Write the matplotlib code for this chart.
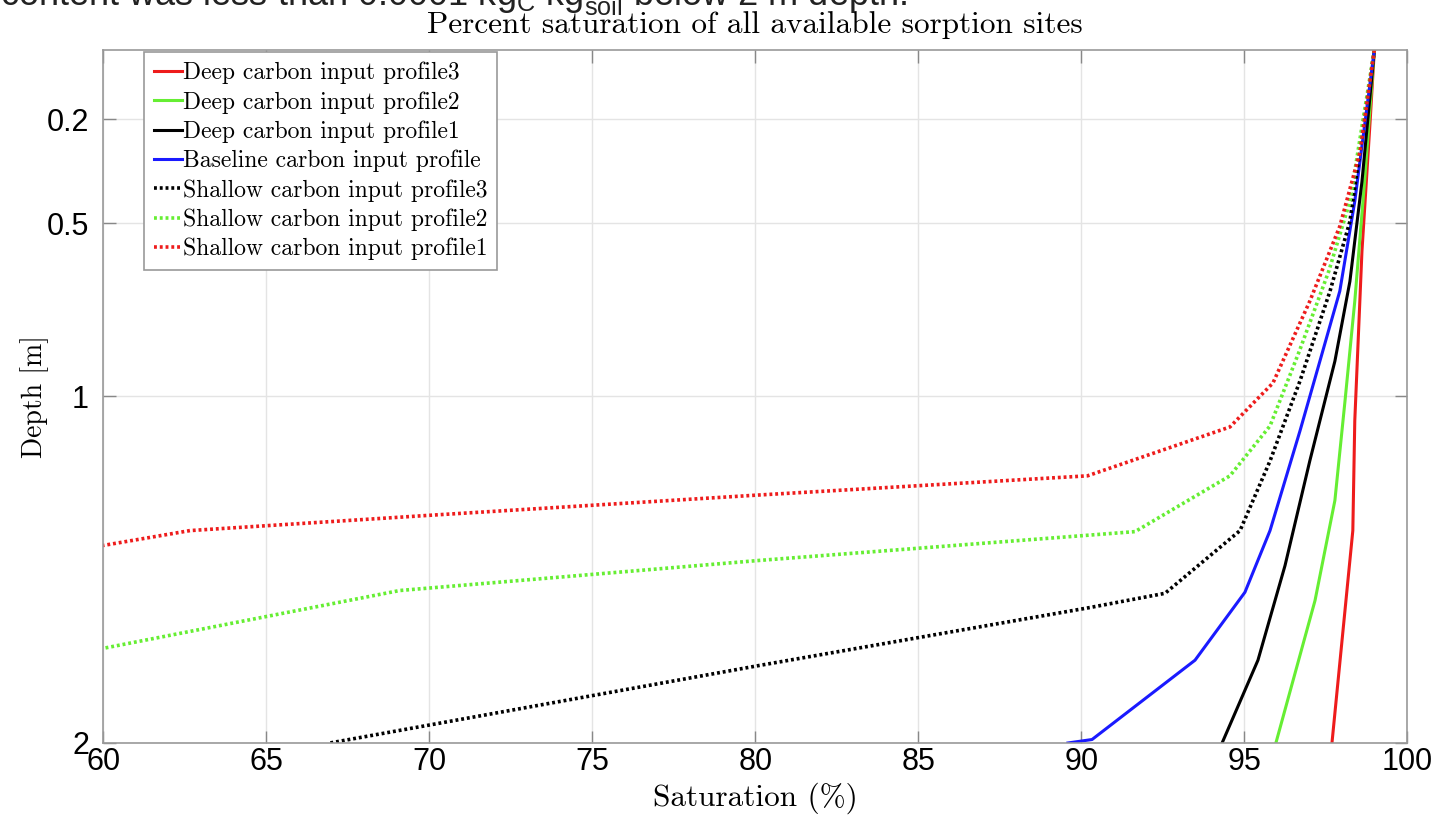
import matplotlib
matplotlib.use('Agg')
import matplotlib.pyplot as plt

plt.rcParams['axes.formatter.use_mathtext'] = True

# saturation (%) vs depth (m)
deep3_sat = [99.0, 98.87, 98.62, 98.4, 98.34, 97.7]
deep3_dep = [0.0, 0.207, 0.581, 1.07, 1.387, 2.0]

deep2_sat = [99.0, 98.7, 98.4, 98.1, 97.79, 97.18, 95.98]
deep2_dep = [0.0, 0.38, 0.725, 1.013, 1.30, 1.589, 2.0]

deep1_sat = [99.0, 98.62, 98.25, 97.79, 97.02, 96.26, 95.43, 94.33]
deep1_dep = [0.0, 0.38, 0.668, 0.898, 1.186, 1.488, 1.761, 2.0]

base_sat = [99.0, 98.4, 97.94, 97.33, 96.72, 95.8, 95.03, 93.5, 90.34, 89.6]
base_dep = [0.0, 0.437, 0.696, 0.898, 1.099, 1.387, 1.565, 1.761, 1.99, 2.0]

shal3_sat = [99.0, 98.25, 97.64, 96.72, 95.8, 94.88, 92.58, 90.28, 80.15, 66.96]
shal3_dep = [0.0, 0.495, 0.696, 0.955, 1.186, 1.387, 1.568, 1.609, 1.776, 2.0]

shal2_sat = [99.0, 98.25, 97.6, 96.7, 95.8, 94.57, 91.66, 80.15, 69.1, 60.0]
shal2_dep = [0.0, 0.437, 0.639, 0.869, 1.085, 1.229, 1.39, 1.473, 1.56, 1.727]

shal1_sat = [99.0, 98.56, 97.94, 97.02, 95.89, 94.57, 90.2, 80.0, 70.0, 62.67, 60.0]
shal1_dep = [0.0, 0.294, 0.509, 0.725, 0.961, 1.088, 1.229, 1.285, 1.343, 1.387, 1.43]

xticks = [60, 65, 70, 75, 80, 85, 90, 95, 100]
yticks = [0.2, 0.5, 1, 2]

red = '#ee1c1c'
green = '#66ee33'
blue = '#1a1aff'
dot = (0, (0.8, 0.8))

fig = plt.figure(figsize=(14.38, 8.18), dpi=100)
ax = fig.add_axes([0.0716, 0.0917, 0.9068, 0.8472])

ax.plot(deep3_sat, deep3_dep, color=red, lw=2.2, label='Deep carbon input profile3')
ax.plot(deep2_sat, deep2_dep, color=green, lw=2.2, label='Deep carbon input profile2')
ax.plot(deep1_sat, deep1_dep, color='k', lw=2.2, label='Deep carbon input profile1')
ax.plot(base_sat, base_dep, color=blue, lw=2.2, label='Baseline carbon input profile')
ax.plot(shal3_sat, shal3_dep, color='k', lw=2.6, ls=dot, label='Shallow carbon input profile3')
ax.plot(shal2_sat, shal2_dep, color=green, lw=2.6, ls=dot, label='Shallow carbon input profile2')
ax.plot(shal1_sat, shal1_dep, color=red, lw=2.6, ls=dot, label='Shallow carbon input profile1')

ax.set_xlim(60, 100)
ax.set_ylim(2, 0)
ax.set_xticks(xticks)
ax.set_yticks(yticks)
ax.set_yticklabels(['0.2', '0.5', '1', '2'])
ax.grid(True, color='#e4e4e4', lw=1)
ax.set_axisbelow(True)
ax.tick_params(direction='in', top=True, right=True, length=9, width=1,
               color='#888888', labelsize=22)
ax.tick_params(axis='y', pad=10)
ax.tick_params(axis='x', pad=3)
for lab in ax.get_xticklabels() + ax.get_yticklabels():
    lab.set_family('Liberation Sans')
for s in ax.spines.values():
    s.set_color('#999999')
    s.set_linewidth(1.2)

serif = {'family': 'cmr10'}
ax.set_title('Percent saturation of all available sorption sites', fontdict=serif,
             fontsize=22.5, pad=12)
ax.set_xlabel('Saturation (%)', fontdict=serif, fontsize=22.5, labelpad=4)
ax.set_ylabel('Depth [m]', fontdict=serif, fontsize=20, labelpad=-2)

leg = ax.legend(loc='upper left', bbox_to_anchor=(0.03, 1.0), prop={'family': 'cmr10', 'size': 17},
                handlelength=1.2, handletextpad=0.05, labelspacing=0.29, borderpad=0.4,
                borderaxespad=0.1, fancybox=False, framealpha=1)
leg.get_frame().set_edgecolor('#999999')
leg.get_frame().set_linewidth(1.2)

# caption text cut off at the top edge of the image
fig.text(0.0, 1 - 6 / 818,
         r'content was less than 0.0001 kg$_\mathregular{C}$ kg$^{-1}_\mathregular{soil}$ below 2 m depth.',
         family='Liberation Sans', fontsize=26, va='baseline', ha='left', color='#222222')

fig.savefig('out.png', dpi=100)
